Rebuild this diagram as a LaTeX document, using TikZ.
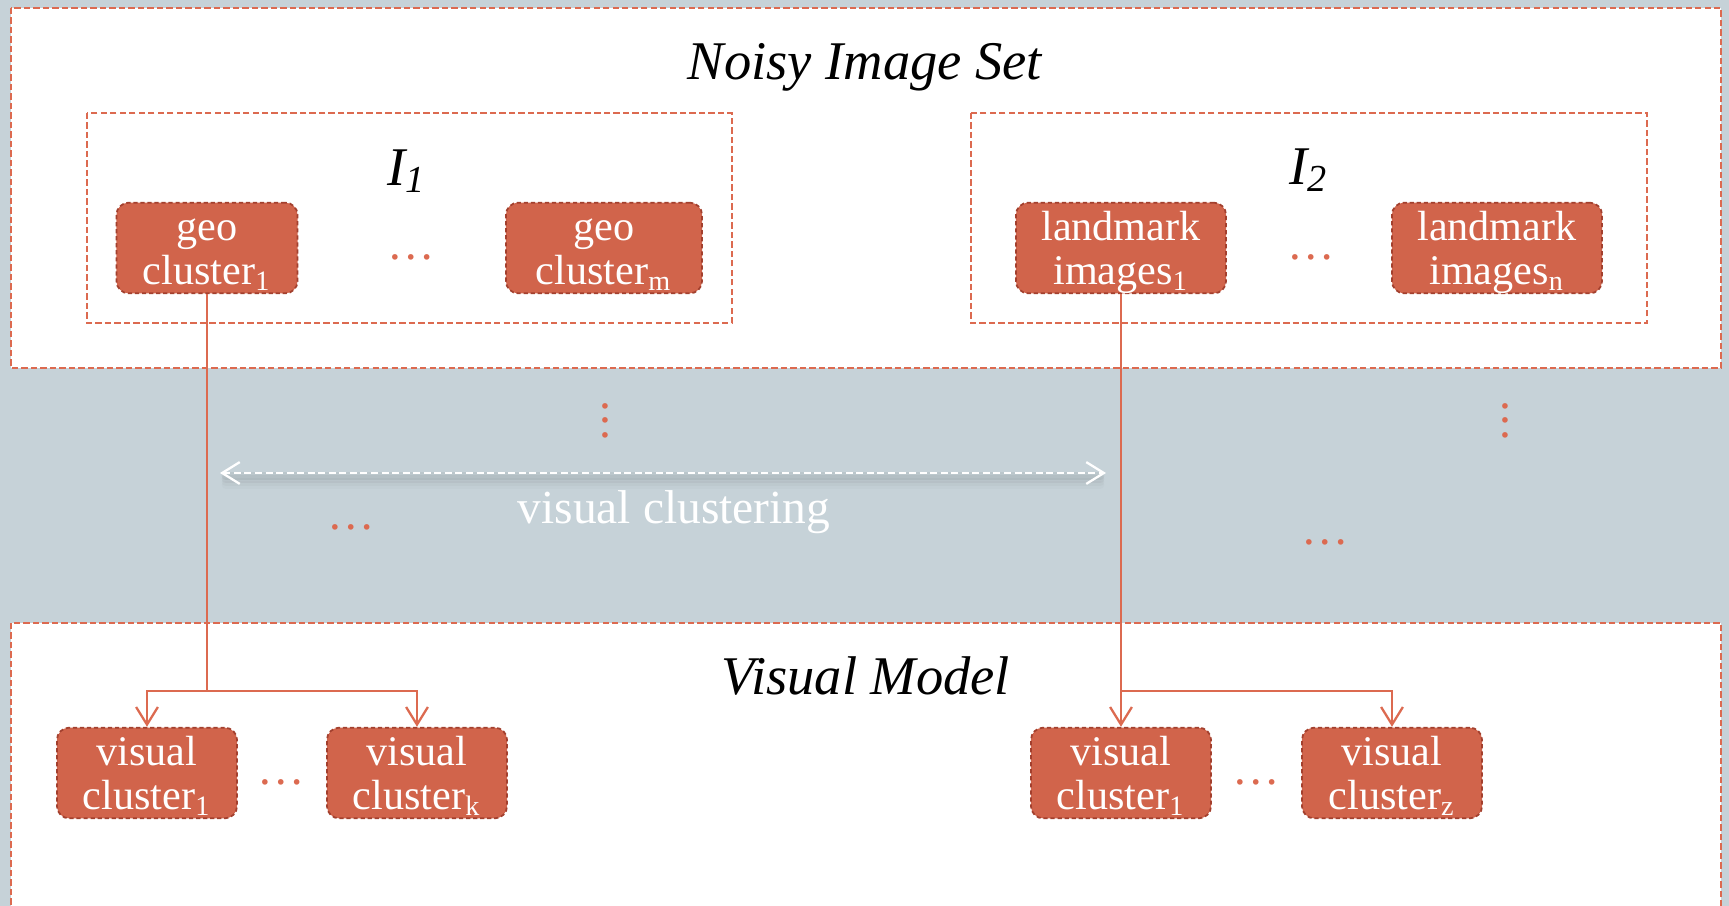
\documentclass[tikz,border=0pt]{standalone}
\usepackage{fontspec}
\setmainfont{Liberation Serif}
\usetikzlibrary{arrows.meta}

\definecolor{bandgray}{HTML}{C6D2D8}
\definecolor{boxfill}{HTML}{D1644B}
\definecolor{boxrim}{HTML}{A3402E}
\definecolor{frameorange}{HTML}{DC6A50}

\tikzset{
  cluster/.style={rectangle, rounded corners=3.5pt, fill=boxfill, draw=boxrim,
    line width=0.5pt, dash pattern=on 1.2pt off 0.8pt, text=white, align=center,
    font=\fontsize{12}{12.5}\selectfont, text height=23.3pt, text depth=2.5pt,
    inner ysep=0pt, inner xsep=2pt},
  frame/.style={draw=frameorange, line width=0.7pt, dash pattern=on 1.8pt off 0.9pt},
  title/.style={font=\fontsize{15.5}{18}\selectfont\itshape, anchor=base},
  dots/.style={text=frameorange, font=\fontsize{13.5}{13.5}\selectfont, anchor=base, inner sep=0pt},
  link/.style={draw=frameorange, line width=0.65pt},
  tip/.tip={Straight Barb[length=5pt, width=6.2pt, line width=0.65pt]}
}

\begin{document}
\begin{tikzpicture}[x=0.01cm, y=-0.01cm]
  \clip (0,0) rectangle (1729,906);
  \fill[bandgray] (0,0) rectangle (1729,906);

  % the two white panels
  \filldraw[fill=white, frame] (11,8) rectangle (1721,368);
  \filldraw[fill=white, frame] (11,623) rectangle (1721,940);
  \draw[frame] (87,113) rectangle (732,323);
  \draw[frame] (971,113) rectangle (1647,323);

  \node[title] (noisy) at (865,79) {Noisy Image Set};
  \node[title] (model) at (866,694) {Visual Model};
  \node[title] (setA) at (407,185) {I\textsubscript{1}};
  \node[title] (setB) at (1309,184) {I\textsubscript{2}};

  % input clusters
  \node[cluster, minimum width=1.81cm] (geo1) at (207,248) {geo\\cluster\textsubscript{1}};
  \node[cluster, minimum width=1.96cm] (geom) at (604,248) {geo\\cluster\textsubscript{m}};
  \node[cluster, minimum width=2.10cm] (lm1) at (1121,248) {landmark\\images\textsubscript{1}};
  \node[cluster, minimum width=2.10cm] (lmn) at (1497,248) {landmark\\images\textsubscript{n}};
  \node[dots] (dA) at (411,259) {\ldots};
  \node[dots] (dB) at (1311,259) {\ldots};

  % output clusters
  \node[cluster, minimum width=1.80cm] (vc1) at (147,773) {visual\\cluster\textsubscript{1}};
  \node[cluster, minimum width=1.80cm] (vck) at (417,773) {visual\\cluster\textsubscript{k}};
  \node[cluster, minimum width=1.80cm] (vcA) at (1121,773) {visual\\cluster\textsubscript{1}};
  \node[cluster, minimum width=1.80cm] (vcz) at (1392,773) {visual\\cluster\textsubscript{z}};
  \node[dots] (dC) at (281,784) {\ldots};
  \node[dots] (dD) at (1256,784) {\ldots};

  % middle band
  \node[dots] (vdA) at (605,437) {\vdots};
  \node[dots] (vdB) at (1505,437) {\vdots};
  \node[dots] (dE) at (351,529) {\ldots};
  \node[dots] (dF) at (1325,544) {\ldots};

  \coordinate (spanL) at (220,473);
  \coordinate (spanR) at (1106,473);
  \foreach \o/\w in {3/0.05, 6/0.04, 9/0.025, 12/0.015}
    \draw[black, opacity=\w, line width=2.5pt, line cap=round]
      ([xshift=0.06cm, yshift=-\o*0.01cm]spanL) -- ([xshift=-0.06cm, yshift=-\o*0.01cm]spanR);
  \draw[white, line width=0.6pt, dash pattern=on 2pt off 1pt, {tip}-{tip}] (spanL) -- (spanR);
  \node[anchor=base, text=white, font=\fontsize{13.5}{16}\selectfont] (vis) at (674,523) {visual clustering};

  % connectors
  \coordinate (forkA) at (geo1.south |- 0,691);
  \coordinate (forkB) at (lm1.south |- 0,691);
  \draw[link, -{tip}] (geo1.south) -- (forkA) -| (vc1.north);
  \draw[link, -{tip}] (forkA) -| (vck.north);
  \draw[link, -{tip}] (lm1.south) -- (vcA.north);
  \draw[link, -{tip}] (forkB) -| (vcz.north);
\end{tikzpicture}
\end{document}
